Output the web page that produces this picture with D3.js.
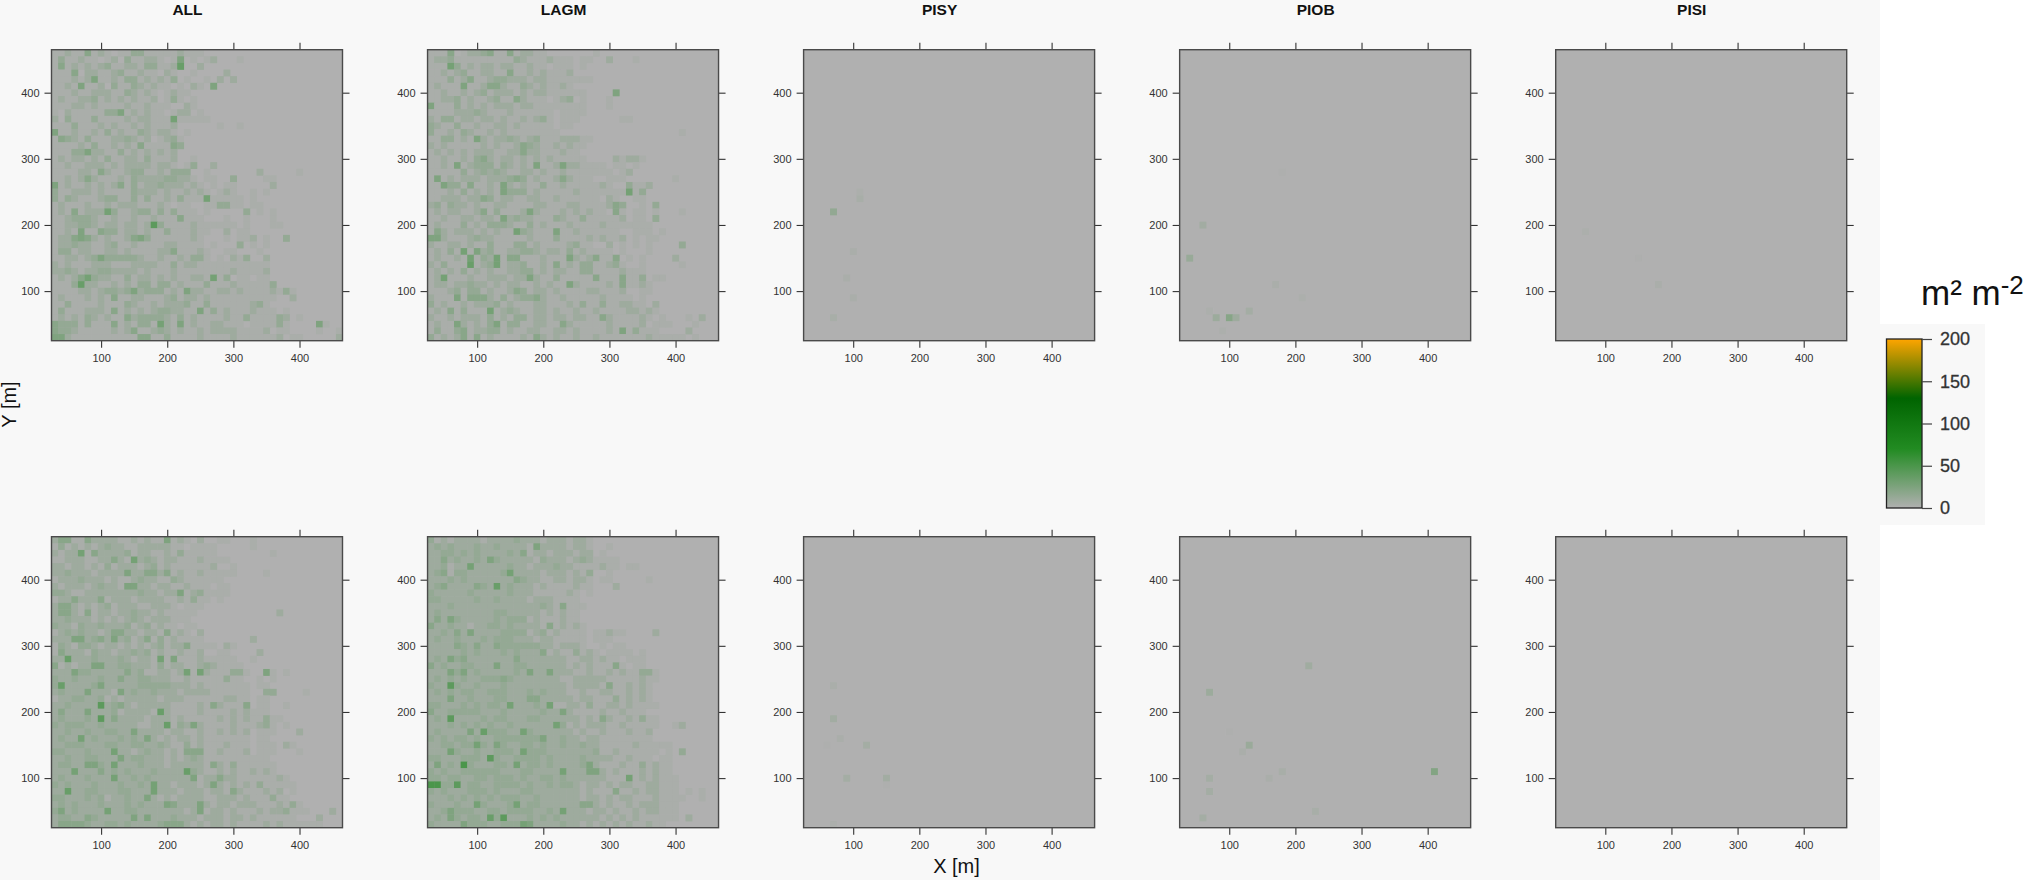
<!DOCTYPE html>
<html><head><meta charset="utf-8">
<script src="https://cdn.jsdelivr.net/npm/d3@7/dist/d3.min.js"></script>
<style>
html,body{margin:0;padding:0;background:#fff;overflow:hidden}
svg{display:block}
text{font-family:"Liberation Sans",Arial,sans-serif}
</style></head><body>
<svg id="c" width="2027" height="880"></svg>
<script>
const panelNames = ["ALL","LAGM","PISY","PIOB","PISI"];
const tickLabels = [100,200,300,400];
const legendTicks = [0,50,100,150,200];
const colorStops = [0,70,130,200];
const colorValues = ["#b0b0b0","#228b22","#006400","#ffa500"];
// the digit in a row below is a class; this is the value (m2 m-2) read for each class
const classValues = [0,3,9,14,19,24,29,35,41,50];

// rows run from y=460 down to y=30, digits from x=30 to x=460 (spaces only aid reading)
const topAll = [
"11211 41210 11331 11112 11100","13112 11012 03112 21015 01012 00010","14121 21231 12213 31127 00200","11140 22112 31121 10210 01000 02",
"11121 25112 13312 12130 10010 20200","11215 11203 11321 21101 02105","11121 12221 13212 10121 10000","12112 23121 21211 20131 01000",
"11122 12111 12112 11100 21000","10211 11133 51212 11012 20100","20311 13111 12122 11161 11110","11131 11212 11212 11120 00000 10010",
"51121 12131 21132 12210 10000","14321 31112 23212 01231 00000","11112 13112 12141 11143 00000","11133 52211 31212 12120 00000",
"12122 12131 12213 11120 01000","11211 22212 12222 12210 13002","11112 21421 12331 12133 30010 00000 02000 00100","11212 42111 21322 22332 21011 00300 00110",
"51211 21212 41312 23222 12101 01100 00020","31122 21211 11322 21211 21210 12100 10100","31321 11233 11313 11213 11161 11110 10000","12111 21121 22211 12101 10011 33110 11000",
"12141 22263 11233 13131 11010 00003 01010","11233 32112 11211 21114 11100 01001 00010","11223 32122 12212 83111 12111 11101 00011","11215 11433 12212 11311 12110 02011 00000",
"12245 42121 12453 11111 12100 01011 20100 30000","12232 21123 11211 11221 11101 00030 10100","13312 21122 12111 12241 11210 01100 01000","11221 23533 33321 12112 13310 10213 00200",
"21211 12221 11222 21131 22111 11111 11100","22321 22332 22212 11121 11111 11211 11200","12124 63221 13122 12121 12216 13011 01100","11137 22112 12133 13312 11131 11211 11130",
"11112 21233 23523 33121 52211 22121 11121 31000","12111 21214 11221 11231 22121 11111 11110 02000","11311 11211 13211 21222 31131 11111 23100 00000","13111 22214 12121 23322 11513 12111 21110 10000",
"12121 32121 14233 33213 12111 12113 11113 20100","43331 31114 12133 16215 12112 21110 11113 10000 5100","43321 11112 12411 23212 11212 22211 11201 10000 1001","55211 11111 11144 11311 11211 11211 11112 01100 0002"];

const topLagm = [
"11140 12234 11412 21100 00000 10","12231 11111 11132 11121 11011 00200 01","11163 12122 12211 21101 11010","11212 31122 11411 21211 12000",
"11131 24112 33222 12211 11111","12111 51124 42113 21211 21000","11211 21231 22212 12211 11110 00050","11223 12112 31142 11101 23010 00100",
"51113 12121 22212 21111 11110 00100","11112 22321 11211 11110 11110","21331 22122 12112 12310 11100 00001 1","32113 11211 22121 11110 11",
"31121 32112 12111 11111 00000 00000 00000 00010","11331 21521 22321 23111 22211","21211 11121 21124 32112 12110","12121 21222 11224 22111 21100",
"11211 21342 12212 12121 11110 00021 22100","11215 12333 13212 15112 52211 11011 01000","11111 31232 32112 21211 21111 11101 20000","15121 22212 22343 12112 42111 00111 00000 00100",
"11533 14112 15212 11311 21111 12100 31120","11121 31212 15333 12111 11211 11111 61300","11222 12243 12211 22112 11111 10210 01100","23132 21211 22111 12211 12211 11243 00103",
"12122 11241 31112 52111 21212 11041 01101 00010","11211 22122 15232 21113 21131 11112 01103","12111 31213 33211 31211 12111 12111 11110","14212 22121 21163 21115 11211 11110 01110 10",
"55211 12322 11111 21113 11112 12112 01011","21122 12113 11133 12111 12311 00201 01010 00030","12131 61523 11223 32122 13121 11101 00010","12112 16132 61441 11211 15212 41140 10100 00200",
"21311 17123 61223 11214 12133 11231 00100 00010","12121 31212 11223 31212 21133 11112 11100","12611 12112 22122 52113 11111 41114 11301 1","12212 23221 21221 12121 15211 11214 11210",
"11123 13312 11243 12212 11112 21112 00110","21115 14442 13123 34211 21111 12111 10100","31211 21222 31211 12211 12131 13112 21102","12141 31116 12321 12212 11211 21111 22121",
"21121 22213 12133 12212 21221 14211 11210 10001 02","12115 21213 51331 12211 42111 11211 11201 11000 1","13113 41223 31211 22112 21211 11215 13111 00002","31212 41412 11112 14212 11211 21111 11121 11110 1"];

const bottomAll = [
"24411 42222 11212 11512 10200 11000 1","13121 21232 21122 22211 01111 00000 1","21226 14222 23122 11213 11111 00000 00010","11222 11224 21623 21221 11211 11000",
"22122 12131 22212 31211 11112 00100","22322 21222 25224 42412 11211 11100 00100","12223 22212 11232 21132 11111 10000","21222 12322 15522 12211 21110 11",
"33211 22222 22232 21225 12311 11000","12242 22412 22122 22112 13110 100","24421 21231 22211 22210 11100","24421 41221 22322 12111 11000 00000 00002",
"22322 21212 12321 22211 10000","32213 22322 23123 12110 11000","12323 22124 42212 21412 10200","22255 23425 23124 13121 11100 00000 20000",
"13213 32122 12121 23122 41111 02100","14222 13221 22323 12112 11200 11000 02000","22722 23222 32122 16151 11211 11100 10000","41212 25522 33222 13122 11232 11110",
"22253 32222 24231 12212 61621 11331 00510 1","32232 22322 42233 22211 21111 13110 01010","37222 23522 22233 33322 21211 11111 01100","23222 52221 52322 32221 22221 11111 00330 00010",
"12233 22312 12222 21222 11111 12211 01100","22322 22823 42122 22211 11214 21114 01100 10","24222 52223 12222 17211 11211 11212 11100","23222 32824 22221 22212 11111 21212 11311",
"32333 22322 22211 22713 25211 11211 12310 1","22322 32233 22522 22122 11211 21212 01110 00200","23226 23222 32325 21212 21211 11111 01100","22333 22233 22332 23211 31211 12111 01110 21",
"33222 32226 22123 22121 44411 21112 01110 00100","22322 33222 52332 22121 23211 11111 11100","23322 55326 22232 22122 22214 21311 11110","22262 22423 23222 32222 73211 21211 21210",
"23222 32226 22323 22222 25122 42211 11112 1","32322 23222 32232 62212 22125 21212 13111 11","22722 33222 33222 62221 22212 21421 11212 01","33222 32312 23225 21212 22211 22212 11131 1",
"23232 22322 23232 22542 22521 22122 21112 13100","35232 22262 23322 22222 12512 21211 12122 31110 0020","23322 43222 22525 22232 22122 21221 21111 11000 200","24444 32233 23222 23444 21212 21211 11212 11111 1"];

const bottomLagm = [
"31212 22212 22232 22122 21221","23232 22322 32222 15222 21221 00100","22332 32322 22324 12212 22122 01000","22423 22325 32222 21322 21232 11110",
"22312 26222 22322 12223 22111 12110 11","23413 32222 23622 22122 21213 00100","22232 32222 22243 22112 21221 01100 0001","23422 22432 72322 21211 11211 00020",
"32222 23222 22322 21111 12101","33222 22322 32222 12221 11100","22232 22222 22222 22321 41110","23222 22222 33222 22121 21100",
"24253 22222 32333 12111 21100","42232 21223 32322 22141 21210","22324 25222 23333 12312 11110 11211 00002","23223 22232 33322 21221 11110 11100",
"22224 32422 43333 33221 22210 01011","22222 32322 23232 22412 11312 10111 10100","23253 42222 22242 22222 21122 12110 11100","42322 33222 52233 22222 21212 11141 01100",
"22253 52322 22232 52252 22112 11212 11331","23232 32233 34322 22222 11222 22111 11211","32283 22322 23222 22222 21222 21411 21210","23232 33223 33222 32322 21121 12211 21210",
"22252 23222 33222 44222 22122 11131 21210","33222 32323 32622 23261 12213 11221 21111","42233 33322 23222 22322 52111 12112 11100","23282 22232 33222 33222 22212 14211 21311",
"22232 32323 22322 22226 31212 22112 11111 00120","23222 25273 33226 32222 22121 12111 21120","32323 32322 33333 33522 32212 21111 11110","22332 33632 53223 32322 32232 21111 12111 11000",
"22263 22322 33326 33322 22222 31121 11111 01030","33222 33328 32233 33232 22232 22211 21110 11","25232 93222 33262 33232 22235 21112 11312 11","32322 33333 32223 32222 62225 52121 11212 11000",
"33233 22332 33323 22332 32222 22111 61212 11100","99338 23322 33332 32232 33212 21212 21122 11100","32322 23332 32223 32222 22212 11141 12122 11101 01","22232 32323 23332 23222 22212 21212 21112 11110 01",
"32223 22632 22362 33222 22244 21211 21222 11100","22353 33223 32333 32232 62221 22121 12122 11100","23253 23327 38222 32323 22222 21212 12111 11102","32222 53332 23336 52222 32212 12121 21121 10000"];

// sparse panels: [x, y, value]
const topPisy = [[70,220,15],[110,240,4],[110,250,2],[100,160,3],[90,120,3],[100,90,3],[70,60,4]];
const topPiob = [[60,200,7],[40,150,12],[170,110,3],[210,90,2],[80,60,10],[100,60,20],[110,60,9],[130,70,6],[90,40,2],[70,70,2],[180,280,1]];
const topPisi = [[70,190,2],[150,150,1],[180,110,3]];
const bottomPisy = [[70,240,3],[70,190,7],[80,160,3],[60,150,1],[120,150,6],[90,100,6],[150,100,7],[150,90,1],[70,30,2]];
const bottomPiob = [[220,270,8],[70,230,10],[130,150,11],[120,140,3],[70,100,6],[70,80,6],[60,40,6],[230,50,4],[160,100,3],[180,110,4],[410,110,22],[100,170,1]];
const bottomPisi = [];

const decodeRows = rows => rows.flatMap((row,r) => Array.from(row.replace(/ /g,"")).map((d,c) => ({x:30+c*10, y:460-r*10, v:classValues[+d]})));
const toCells = list => list.map(([x,y,v]) => ({x,y,v}));

const panels = [
  {row:0,col:0,title:panelNames[0],cells:decodeRows(topAll)},
  {row:0,col:1,title:panelNames[1],cells:decodeRows(topLagm)},
  {row:0,col:2,title:panelNames[2],cells:toCells(topPisy)},
  {row:0,col:3,title:panelNames[3],cells:toCells(topPiob)},
  {row:0,col:4,title:panelNames[4],cells:toCells(topPisi)},
  {row:1,col:0,cells:decodeRows(bottomAll)},
  {row:1,col:1,cells:decodeRows(bottomLagm)},
  {row:1,col:2,cells:toCells(bottomPisy)},
  {row:1,col:3,cells:toCells(bottomPiob)},
  {row:1,col:4,cells:toCells(bottomPisi)}
];

const svg = d3.select("#c");
const defs = svg.append("defs");
defs.append("filter").attr("id","soft").append("feGaussianBlur").attr("stdDeviation",0.5);
const color = d3.scaleLinear().domain(colorStops).range(colorValues).clamp(true);

svg.append("rect").attr("width",1880).attr("height",880).attr("fill","#f8f8f8");
svg.append("rect").attr("x",1880).attr("y",324).attr("width",105).attr("height",201).attr("fill","#f8f8f8");

const panelLeft = d3.scaleLinear().domain([0,4]).range([51.5,1555.7]);
const panelTop = d3.scaleLinear().domain([0,1]).range([49.7,536.7]);
const size = 291;
const x = d3.scaleLinear().domain([25,465]).range([0,size]);
const y = d3.scaleLinear().domain([25,465]).range([size,0]);
const labelFont = '"Liberation Sans",Arial,sans-serif';

panels.forEach(p => {
  const g = svg.append("g").attr("transform",`translate(${panelLeft(p.col)},${panelTop(p.row)})`);
  g.append("rect").attr("width",size).attr("height",size).attr("fill",color(0));
  g.append("clipPath").attr("id",`cp${p.row}${p.col}`).append("rect").attr("width",size).attr("height",size);
  g.append("g").attr("clip-path",`url(#cp${p.row}${p.col})`).append("g").attr("filter","url(#soft)")
    .selectAll("rect").data(p.cells.filter(d=>d.v>0)).join("rect")
    .attr("x",d=>x(d.x-5)).attr("y",d=>y(d.y+5))
    .attr("width",d=>x(d.x+5)-x(d.x-5)+0.3).attr("height",d=>y(d.y-5)-y(d.y+5)+0.3)
    .attr("fill",d=>color(d.v));
  const axes = [
    [d3.axisBottom(x),`translate(0,${size})`,true],
    [d3.axisLeft(y),`translate(0,0)`,true],
    [d3.axisTop(x),`translate(0,0)`,false],
    [d3.axisRight(y),`translate(${size},0)`,false]
  ];
  axes.forEach(([a,t,lab],i) => {
    const ag = g.append("g").attr("transform",t)
      .call(a.tickValues(tickLabels).tickSize(7).tickPadding(i===0?7:5).tickFormat(lab?d3.format("d"):""));
    ag.select(".domain").remove();
    ag.selectAll("line").attr("stroke","#333").attr("stroke-width",1.1);
    ag.selectAll("text").attr("fill","#333").style("font-size","11px").style("font-family",labelFont);
  });
  g.append("rect").attr("width",size).attr("height",size).attr("fill","none").attr("stroke","#4a4a4a").attr("stroke-width",1.4);
  if (p.title) svg.append("text").attr("x",panelLeft(p.col)+136).attr("y",15).attr("text-anchor","middle")
    .attr("font-weight","bold").attr("font-size",15.5).attr("fill","#111").text(p.title);
});

svg.append("text").attr("x",956.5).attr("y",872.5).attr("text-anchor","middle").attr("font-size",20).attr("fill","#111").text("X [m]");
svg.append("text").attr("transform","translate(15.5,404.5) rotate(-90)").attr("text-anchor","middle").attr("font-size",20).attr("fill","#111").text("Y [m]");

// legend
const legY = d3.scaleLinear().domain([0,200]).range([508,339]);
const grad = defs.append("linearGradient").attr("id","lg").attr("x1",0).attr("x2",0).attr("y1",1).attr("y2",0);
legendTicks.concat(colorStops).sort(d3.ascending).forEach(v => grad.append("stop").attr("offset",v/200).attr("stop-color",color(v)));
const lg = svg.append("g");
lg.append("rect").attr("x",1886.5).attr("y",legY(200)).attr("width",35.5).attr("height",legY(0)-legY(200)).attr("fill","url(#lg)").attr("stroke","#222").attr("stroke-width",1.3);
const la = lg.append("g").attr("transform","translate(1922,0)")
  .call(d3.axisRight(legY).tickValues(legendTicks).tickSize(10).tickPadding(8));
la.select(".domain").remove();
la.selectAll("line").attr("stroke","#444").attr("stroke-width",1.2);
la.selectAll("text").attr("fill","#333").attr("stroke","#333").attr("stroke-width",0.3).style("font-size","18px").style("font-family",labelFont);

const unit = svg.append("text").attr("x",1921).attr("y",305).attr("font-size",35).attr("fill","#111");
unit.append("tspan").text("m² m");
unit.append("tspan").attr("dy",-11).attr("font-size",26).text("-2");
</script></body></html>
